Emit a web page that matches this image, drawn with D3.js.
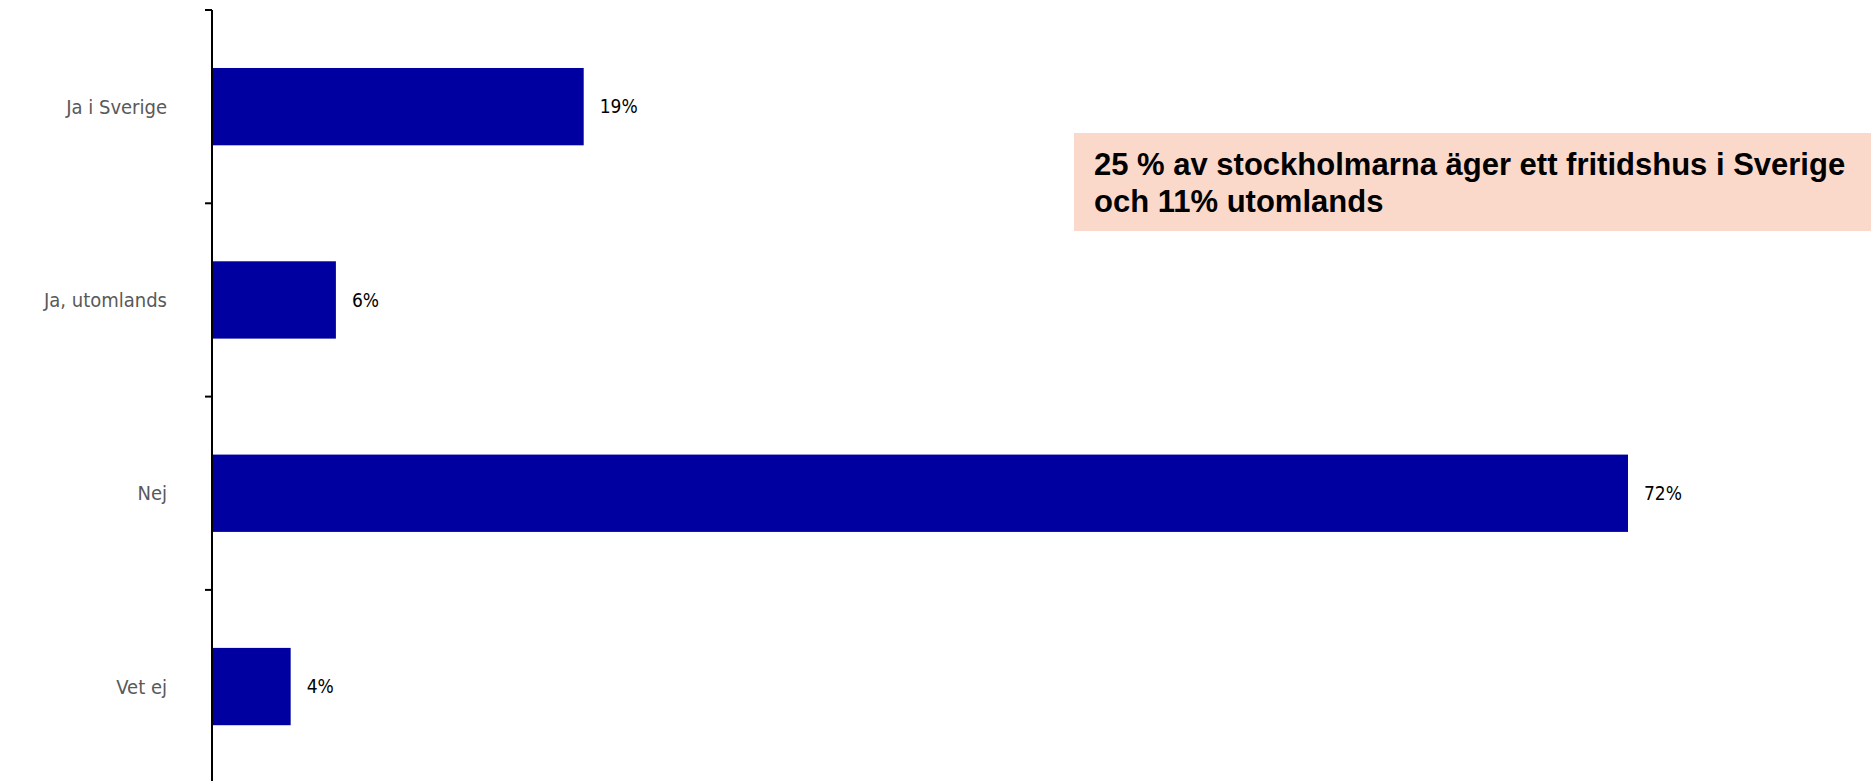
<!DOCTYPE html>
<html>
<head>
<meta charset="utf-8">
<script src="https://cdn.jsdelivr.net/npm/d3@7"></script>
<style>
    body { margin: 0; background: #fff; }
    svg { display: block; }
</style>
</head>
<body>
<div id="chart"></div>
<script>
// data
const categories = ["Ja i Sverige", "Ja, utomlands", "Nej", "Vet ej"];
const values = [18.9, 6.3, 72.0, 4.0];
const valueLabels = ["19%", "6%", "72%", "4%"];
const noteLines = ["25 % av stockholmarna äger ett fritidshus i Sverige", "och 11% utomlands"];

const width = 1871, height = 781;
const margin = {top: 10, left: 212};

const svg = d3.select("#chart").append("svg")
    .attr("width", width)
    .attr("height", height);

// scales
let x = d3.scaleLinear()
    .domain([0, 72])
    .range([margin.left, margin.left + 1416]);

let y = d3.scaleBand()
    .domain(categories)
    .range([margin.top, margin.top + 193.3 * 4])
    .paddingInner(0.6)
    .paddingOuter(0.3);

// bars
svg.selectAll(".bar")
    .data(categories)
    .enter()
    .append("rect")
    .attr("class", "bar")
    .attr("x", x(0))
    .attr("y", d => y(d))
    .attr("width", (d, i) => x(values[i]) - x(0))
    .attr("height", y.bandwidth())
    .attr("fill", "#0000A0");

// value labels
svg.selectAll(".val")
    .data(categories)
    .enter()
    .append("text")
    .attr("class", "val")
    .attr("x", (d, i) => x(values[i]) + 16)
    .attr("y", d => y(d) + y.bandwidth() / 2)
    .attr("dy", "0.35em")
    .attr("font-family", "DejaVu Sans Condensed, DejaVu Sans, sans-serif")
    .attr("font-size", "19px")
    .attr("fill", "#000")
    .text((d, i) => valueLabels[i]);

// y axis with ticks between categories
const step = y.step();
const tickPos = d3.range(0, categories.length + 1).map(i => margin.top + i * step);

svg.append("line")
    .attr("x1", margin.left).attr("x2", margin.left)
    .attr("y1", margin.top).attr("y2", height)
    .attr("stroke", "#000")
    .attr("stroke-width", 2);

svg.selectAll(".tick")
    .data(tickPos)
    .enter()
    .append("line")
    .attr("class", "tick")
    .attr("x1", margin.left - 7).attr("x2", margin.left)
    .attr("y1", d => d).attr("y2", d => d)
    .attr("stroke", "#000")
    .attr("stroke-width", 2);

// category labels
svg.selectAll(".cat")
    .data(categories)
    .enter()
    .append("text")
    .attr("class", "cat")
    .attr("x", margin.left - 45)
    .attr("y", d => y(d) + y.bandwidth() / 2)
    .attr("dy", "0.35em")
    .attr("text-anchor", "end")
    .attr("font-family", "DejaVu Sans Condensed, DejaVu Sans, sans-serif")
    .attr("font-size", "20px")
    .attr("fill", "#595959")
    .text(d => d);

// note box
const note = svg.append("g").attr("transform", "translate(1074,133)");
note.append("rect")
    .attr("width", width - 1074)
    .attr("height", 98)
    .attr("fill", "#FAD9CB");
note.selectAll("text")
    .data(noteLines)
    .enter()
    .append("text")
    .attr("x", 20)
    .attr("y", (d, i) => 42 + i * 37)
    .attr("font-family", "Liberation Sans, Arial, sans-serif")
    .attr("font-weight", "bold")
    .attr("font-size", "31px")
    .attr("fill", "#000")
    .text(d => d);
</script>
</body>
</html>
